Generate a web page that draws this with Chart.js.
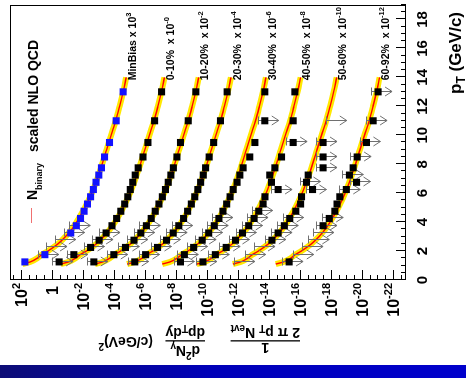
<!DOCTYPE html>
<html>
<head>
<meta charset="utf-8">
<title>Direct photon spectra</title>
<script src="https://cdn.jsdelivr.net/npm/chart.js@4.4.1/dist/chart.umd.min.js"></script>
<style>
  html, body { margin: 0; padding: 0; background: #fff; }
  body { width: 466px; height: 378px; overflow: hidden; position: relative; }
  /* plot is laid out upright, then turned a quarter turn to the left */
  #turn { position: absolute; left: 0; top: 0; width: 366px; height: 466px;
          transform-origin: 0 0; transform: translate(0, 366px) rotate(-90deg); }
  #strip { position: absolute; left: 0; top: 365px; width: 466px; height: 13px;
           background: linear-gradient(90deg, #0d0d76, #0000b8 45%, #0000cc); }
</style>
</head>
<body>
<div id="turn"><canvas id="spectra" width="366" height="466"></canvas></div>
<div id="strip"></div>
<script>
// pT bin centres (GeV/c) and the pT values where the NLO curves are tabulated
const ptBins = [1.25, 1.75, 2.25, 2.75, 3.25, 3.75, 4.25, 4.75, 5.25, 5.75, 6.25, 6.75, 7.25, 7.75, 8.5, 9.5, 11, 13];
const nloPt = [1.1, 1.25, 1.5, 1.75, 2, 2.5, 3, 3.5, 4, 5, 6, 7, 8, 9, 10, 11, 12, 13, 14];

// log10 of the (scaled) invariant yield, null = no point
// limit flags: 0 plain point, 1 point with arrow, 2 arrow only
const minBiasPts = [1.74, 0.45, -0.08, -0.65, -1.22, -1.58, -1.85, -2.08, -2.30, -2.50, -2.68, -2.85, -3.03, -3.20, -3.40, -3.72, -4.15, -4.60];
const minBiasLim = [0, 1, 2, 2, 1, 1, 0, 0, 0, 0, 0, 0, 0, 0, 0, 0, 0, 0];
const minBiasNlo = [1.90, 1.40, 0.95, 0.65, 0.25, -0.40, -0.88, -1.28, -1.60, -2.13, -2.57, -2.93, -3.24, -3.53, -3.82, -4.12, -4.37, -4.60, -4.80];

const c0010Pts = [-0.47, -1.42, -2.50, -3.05, -3.50, -3.88, -4.18, -4.45, -4.70, -4.90, -5.06, -5.22, -5.38, -5.57, -5.88, -6.20, -6.63, -7.08];
const c0010Lim = [1, 1, 1, 1, 1, 0, 0, 0, 0, 0, 0, 0, 0, 0, 0, 0, 0, 0];
const c0010Nlo = [-0.57, -1.07, -1.52, -1.82, -2.22, -2.87, -3.35, -3.75, -4.07, -4.60, -5.04, -5.40, -5.71, -6.00, -6.29, -6.59, -6.84, -7.07, -7.27];

const c1020Pts = [-2.71, -4.00, -4.75, -5.30, -5.74, -6.10, -6.41, -6.67, -6.91, -7.13, -7.33, -7.51, -7.68, -7.84, -8.07, -8.30, -8.80, -9.29];
const c1020Lim = [1, 1, 1, 1, 1, 1, 0, 0, 0, 0, 0, 0, 0, 0, 0, 0, 0, 0];
const c1020Nlo = [-2.78, -3.28, -3.73, -4.03, -4.43, -5.08, -5.56, -5.96, -6.28, -6.81, -7.25, -7.61, -7.92, -8.21, -8.50, -8.80, -9.05, -9.28, -9.48];

const c2030Pts = [-5.35, -6.05, -6.82, -7.40, -7.83, -8.19, -8.50, -8.76, -9.00, -9.22, -9.42, -9.60, -9.77, -9.92, -10.15, -10.44, -10.88, -11.31];
const c2030Lim = [1, 1, 1, 1, 1, 1, 0, 0, 0, 0, 0, 0, 0, 0, 0, 0, 0, 0];
const c2030Nlo = [-4.86, -5.36, -5.81, -6.11, -6.51, -7.16, -7.64, -8.04, -8.36, -8.89, -9.33, -9.69, -10.00, -10.29, -10.58, -10.88, -11.13, -11.36, -11.56];

const c3040Pts = [-8.30, -8.55, -9.15, -9.70, -10.12, -10.48, -10.78, -11.04, -11.28, -11.50, -11.70, -11.95, -12.13, -12.34, -12.77, -13.10, -13.74, -13.74];
const c3040Lim = [1, 1, 1, 1, 1, 1, 1, 0, 0, 0, 0, 0, 0, 0, 0, 0, 1, 0];
const c3040Nlo = [-7.12, -7.62, -8.07, -8.37, -8.77, -9.42, -9.90, -10.30, -10.62, -11.15, -11.59, -11.95, -12.26, -12.55, -12.84, -13.14, -13.39, -13.62, -13.82];

const c4050Pts = [-9.75, -10.55, -11.25, -11.85, -12.30, -12.70, -13.05, -13.35, -13.63, -13.75, -14.60, -14.17, -14.06, -14.39, -14.82, -15.57, -15.57, -15.68];
const c4050Lim = [1, 1, 1, 1, 1, 1, 1, 1, 0, 0, 1, 0, 0, 0, 0, 1, 0, 0];
const c4050Nlo = [-9.35, -9.85, -10.30, -10.60, -11.00, -11.65, -12.13, -12.53, -12.85, -13.38, -13.82, -14.18, -14.49, -14.78, -15.07, -15.37, -15.62, -15.85, -16.05];

const c5060Pts = [-12.20, -12.90, -13.50, -14.20, -14.60, -15.00, -15.35, -15.74, -16.05, -16.11, -16.82, -16.43, -16.54, -17.50, -17.50, -17.50, -18.13, null];
const c5060Lim = [2, 2, 2, 1, 1, 1, 1, 0, 0, 0, 1, 1, 0, 1, 1, 1, 2, 0];
const c5060Nlo = [-11.68, -12.18, -12.63, -12.93, -13.33, -13.98, -14.46, -14.86, -15.18, -15.71, -16.15, -16.51, -16.82, -17.11, -17.40, -17.70, -17.95, -18.18, -18.38];

const c6092Pts = [-15.31, -16.00, -16.60, -17.00, -17.30, -17.50, -17.90, -18.26, -18.40, -18.58, -19.00, -19.66, -19.20, -19.44, -19.70, -20.30, -20.73, -21.05];
const c6092Lim = [1, 2, 2, 2, 2, 1, 1, 0, 0, 0, 1, 1, 1, 0, 1, 1, 1, 1];
const c6092Nlo = [-14.45, -14.95, -15.40, -15.70, -16.10, -16.75, -17.23, -17.63, -17.95, -18.48, -18.92, -19.28, -19.59, -19.88, -20.17, -20.47, -20.72, -20.95, -21.15];

const seriesNames = ['MinBias', '0-10%', '10-20%', '20-30%', '30-40%', '40-50%', '50-60%', '60-92%'];
const scaleExps = ['3', '-0', '-2', '-4', '-6', '-8', '-10', '-12'];

const pTTicks = [0, 2, 4, 6, 8, 10, 12, 14, 16, 18];
const yieldTickExps = [2, 0, -2, -4, -6, -8, -10, -12, -14, -16, -18, -20, -22];

const FONT = '"Liberation Sans", Arial, Helvetica, sans-serif';
const f = (size) => `bold ${size}px ${FONT}`;

const series = [
  [minBiasPts, minBiasLim, minBiasNlo],
  [c0010Pts, c0010Lim, c0010Nlo],
  [c1020Pts, c1020Lim, c1020Nlo],
  [c2030Pts, c2030Lim, c2030Nlo],
  [c3040Pts, c3040Lim, c3040Nlo],
  [c4050Pts, c4050Lim, c4050Nlo],
  [c5060Pts, c5060Lim, c5060Nlo],
  [c6092Pts, c6092Lim, c6092Nlo],
].map(([pts, lim, nlo], i) => ({
  name: seriesNames[i], exp: scaleExps[i], pts, lim, nlo,
  color: i === 0 ? '#1212ff' : '#000000',
}));

const datasets = [];
series.forEach((s) => {
  const curve = nloPt.map((x, j) => ({ x, y: 10 ** s.nlo[j] }));
  datasets.push({
    kind: 'band', data: curve, borderColor: '#ffe800', borderWidth: 6,
    pointRadius: 0, cubicInterpolationMode: 'monotone', order: 3,
  });
  datasets.push({
    kind: 'nlo', data: curve, borderColor: '#ff0000', borderWidth: 1.4,
    pointRadius: 0, cubicInterpolationMode: 'monotone', order: 2,
  });
  datasets.push({
    kind: 'pts', showLine: false, order: 1,
    data: ptBins.map((x, j) => ({
      x, y: s.pts[j] == null || s.lim[j] === 2 ? null : 10 ** s.pts[j],
    })),
    pointStyle: 'rect', pointRadius: 5, borderWidth: 0,
    backgroundColor: s.color, borderColor: s.color,
  });
});

// text runs: [text, size, dy]
function runs(ctx, parts, x, y) {
  for (const [t, size, dy] of parts) {
    ctx.font = f(size);
    ctx.fillText(t, x, y + (dy || 0));
    x += ctx.measureText(t).width;
  }
  return x;
}
function runsWidth(ctx, parts) {
  let w = 0;
  for (const [t, size] of parts) { ctx.font = f(size); w += ctx.measureText(t).width; }
  return w;
}

// grey bars with downward arrows for the upper-limit style points
function drawLimits(chart) {
  const { ctx, scales: { x, y } } = chart;
  ctx.save();
  ctx.strokeStyle = '#707070';
  ctx.lineWidth = 1;
  ctx.beginPath();
  series.forEach((s) => s.pts.forEach((v, i) => {
    if (!s.lim[i] || v == null) return;
    const px = Math.round(x.getPixelForValue(ptBins[i])) + 0.5;
    const top = Math.round(y.getPixelForValue(10 ** (v + 0.45))) + 0.5;
    const tip = y.getPixelForValue(10 ** (v - 0.9));
    ctx.moveTo(px - 4, top); ctx.lineTo(px + 4, top);
    ctx.moveTo(px, top); ctx.lineTo(px, tip);
    ctx.moveTo(px - 4.5, tip - 7); ctx.lineTo(px, tip); ctx.lineTo(px + 4.5, tip - 7);
  }));
  ctx.stroke();
  ctx.restore();
}

const decor = {
  id: 'decor',
  beforeDatasetsDraw(chart) { chart.$limitsDone = false; },
  beforeDatasetDraw(chart, args) {
    const ds = chart.data.datasets[args.index];
    if (ds.kind !== 'pts' || chart.$limitsDone) return;
    chart.$limitsDone = true;
    drawLimits(chart);
  },
  afterDraw(chart) {
    const { ctx, chartArea: a, scales: { x, y } } = chart;
    ctx.save();
    ctx.fillStyle = '#000';
    ctx.strokeStyle = '#000';
    ctx.lineWidth = 1;

    // frame
    ctx.strokeRect(a.left + 0.5, a.top + 0.5, a.right - a.left - 1, a.bottom - a.top - 1);

    // ticks point into the frame
    ctx.beginPath();
    for (let t = 0; t <= 19; t += 0.5) {
      const px = Math.round(x.getPixelForValue(t)) + 0.5;
      const len = t % 2 === 0 ? 10 : 5;
      ctx.moveTo(px, a.bottom); ctx.lineTo(px, a.bottom - len);
    }
    for (let e = -22.5; e <= 2.5; e += 0.5) {
      const py = Math.round(y.getPixelForValue(10 ** e)) + 0.5;
      const len = e % 2 === 0 ? 10 : 5;
      ctx.moveTo(a.left, py); ctx.lineTo(a.left + len, py);
    }
    ctx.stroke();

    // pT tick labels and title
    ctx.textBaseline = 'alphabetic';
    ctx.textAlign = 'center';
    ctx.font = f(15);
    pTTicks.forEach((t) => ctx.fillText(String(t), x.getPixelForValue(t), 427));
    ctx.textAlign = 'left';
    const xTitle = [['p', 17], ['T', 12, 4], [' (GeV/c)', 17]];
    runs(ctx, xTitle, 354 - runsWidth(ctx, xTitle), 461);

    // yield tick labels
    yieldTickExps.forEach((e) => {
      const py = y.getPixelForValue(10 ** e);
      const parts = e === 0 ? [['1', 16]] : [['10', 16], [String(e), 11, -7]];
      const right = e === 0 ? 80 : 83;
      runs(ctx, parts, right - runsWidth(ctx, parts), py + 6);
    });

    // yield title, written along the axis
    ctx.save();
    ctx.translate(21, 300);
    ctx.rotate(-Math.PI / 2);
    const den1 = [['2 \u03c0 p', 14], ['T', 10, 3], [' N', 14], ['evt', 10, 3]];
    const w1 = runsWidth(ctx, den1);
    runs(ctx, den1, 0, 17);
    ctx.font = f(14);
    ctx.textAlign = 'center';
    ctx.fillText('1', w1 / 2, 2);
    ctx.textAlign = 'left';
    ctx.fillRect(0, 3.5, w1, 1.3);
    const num2 = [['d', 14], ['2', 10, -6], ['N', 14], ['\u03b3', 10, 3]];
    const den2 = [['dp', 14], ['T', 10, 3], ['dy', 14]];
    const w2 = Math.max(runsWidth(ctx, num2), runsWidth(ctx, den2));
    runs(ctx, num2, 95 + (w2 - runsWidth(ctx, num2)) / 2, -1);
    runs(ctx, den2, 95 + (w2 - runsWidth(ctx, den2)) / 2, 17);
    ctx.fillRect(95, 3.5, w2, 1.3);
    runs(ctx, [['(c/GeV)', 14], ['2', 10, -6]], 147, 8);
    ctx.restore();

    // legend entry for the curves
    ctx.strokeStyle = '#f07070';
    ctx.beginPath();
    ctx.moveTo(143, 31.5); ctx.lineTo(158, 31.5);
    ctx.stroke();
    runs(ctx, [['N', 14], ['binary', 9, 5]], 166, 37);
    runs(ctx, [['scaled NLO QCD', 14]], 214, 38);

    // series names at the high-pT end of each curve
    series.forEach((s) => {
      const endX = x.getPixelForValue(nloPt[nloPt.length - 1]) - 3;
      const endY = y.getPixelForValue(10 ** s.nlo[s.nlo.length - 1]) + 9.5;
      const gap = s.name === 'MinBias' ? ' x 10' : '  x 10';
      runs(ctx, [[s.name + gap, 10.5], [s.exp, 7.5, -5]], endX, endY);
    });
    ctx.restore();
  },
};

new Chart(document.getElementById('spectra'), {
  type: 'line',
  data: { datasets },
  options: {
    responsive: false,
    animation: false,
    devicePixelRatio: 1,
    layout: { padding: { left: 86, right: 1, top: 10, bottom: 60 } },
    plugins: { legend: { display: false }, tooltip: { enabled: false } },
    elements: { line: { borderCapStyle: 'butt', borderJoinStyle: 'round' } },
    scales: {
      x: { type: 'linear', min: 0, max: 19, display: false },
      y: { type: 'logarithmic', min: 10 ** -22.85, max: 10 ** 2.7, display: false },
    },
  },
  plugins: [decor],
});
</script>
</body>
</html>
